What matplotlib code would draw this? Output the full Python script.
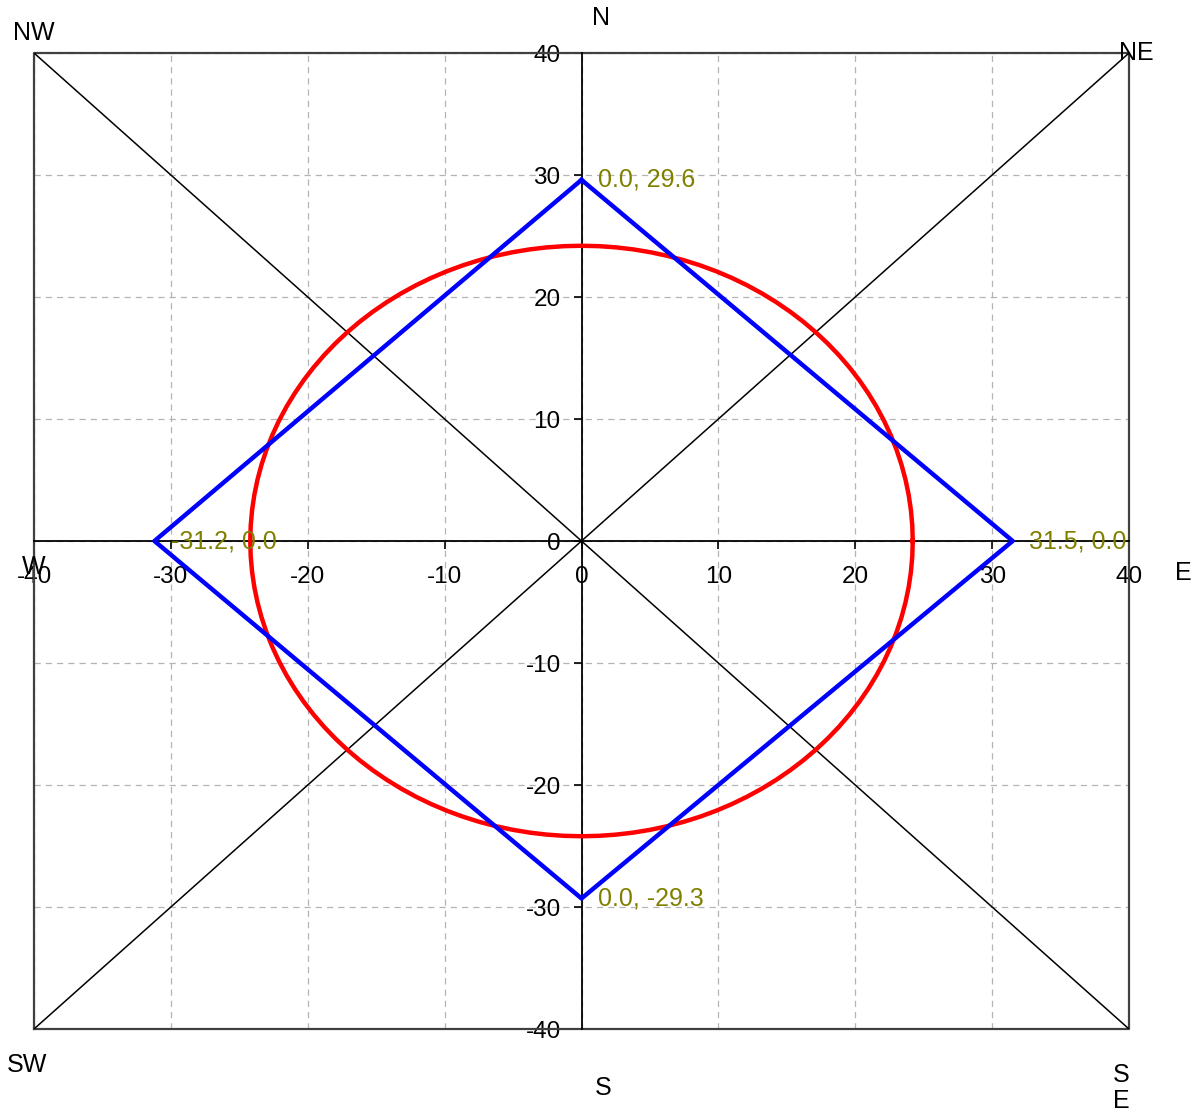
import numpy as np
import matplotlib
matplotlib.use("Agg")
import matplotlib.pyplot as plt

plt.rcParams['font.family'] = ['Liberation Sans', 'DejaVu Sans']

# Data
poly_x = [0.0, 31.5, 0.0, -31.2]
poly_y = [29.6, 0.0, -29.3, 0.0]
point_labels = ["0.0, 29.6", "31.5, 0.0", "0.0, -29.3", "-31.2, 0.0"]
circle_radius = 24.2
ticks = [-40, -30, -20, -10, 0, 10, 20, 30, 40]
tick_labels = ["-40", "-30", "-20", "-10", "0", "10", "20", "30", "40"]

fig = plt.figure(figsize=(12.03, 11.15), dpi=100)
ax = fig.add_axes([34/1203, 1-1029/1115, (1129-34)/1203, (1029-53)/1115])
ax.set_xlim(-40, 40)
ax.set_ylim(-40, 40)

# grid
ax.set_xticks(ticks)
ax.set_yticks(ticks)
ax.set_xticklabels(tick_labels)
ax.set_yticklabels(tick_labels)
ax.grid(True, color='#b4b4b4', linestyle=(0, (5, 4)), linewidth=0.9)

# spines through origin
ax.spines['left'].set_position('zero')
ax.spines['bottom'].set_position('zero')
for s in ['top', 'right']:
    ax.spines[s].set_visible(False)
for s in ['left', 'bottom']:
    ax.spines[s].set_linewidth(1.3)
    ax.spines[s].set_zorder(3)
ax.tick_params(axis='both', direction='out', length=6, width=1.2, labelsize=17.5)
ax.tick_params(axis='x', pad=12)
ax.tick_params(axis='y', pad=9)

# frame box
ax.plot([-40, 40, 40, -40, -40], [-40, -40, 40, 40, -40], color='#404040',
        lw=1.6, clip_on=False, zorder=2)

# diagonals
ax.plot([-40, 40], [40, -40], color='black', lw=1.1, zorder=2)
ax.plot([-40, 40], [-40, 40], color='black', lw=1.1, zorder=2)

# circle
t = np.linspace(0, 2*np.pi, 121)
ax.plot(circle_radius*np.cos(t), circle_radius*np.sin(t), color='#ff0000', lw=3.2, zorder=4)

# polygon
ax.plot(poly_x + [poly_x[0]], poly_y + [poly_y[0]], color='#0000ff', lw=3.2, zorder=5)

for x, y, lab in zip(poly_x, poly_y, point_labels):
    ax.annotate(lab, (x, y), xytext=(12, 0), textcoords='offset points',
                color='#808000', fontsize=18, va='center', ha='left', zorder=6)

# compass labels
def ftext(px, py, s, **kw):
    fig.text(px/1203, 1-py/1115, s, fontsize=18, ha='center', va='center', **kw)

ftext(34, 33, "NW")
ftext(1136, 53, "NE")
ftext(601, 18, "N")
ftext(603, 1088, "S")
ftext(34, 567, "W")
ftext(1183, 573, "E")
ftext(27, 1065, "SW")
ftext(1121, 1088, "S\nE", linespacing=1.1)

fig.savefig("out.png", dpi=100)
